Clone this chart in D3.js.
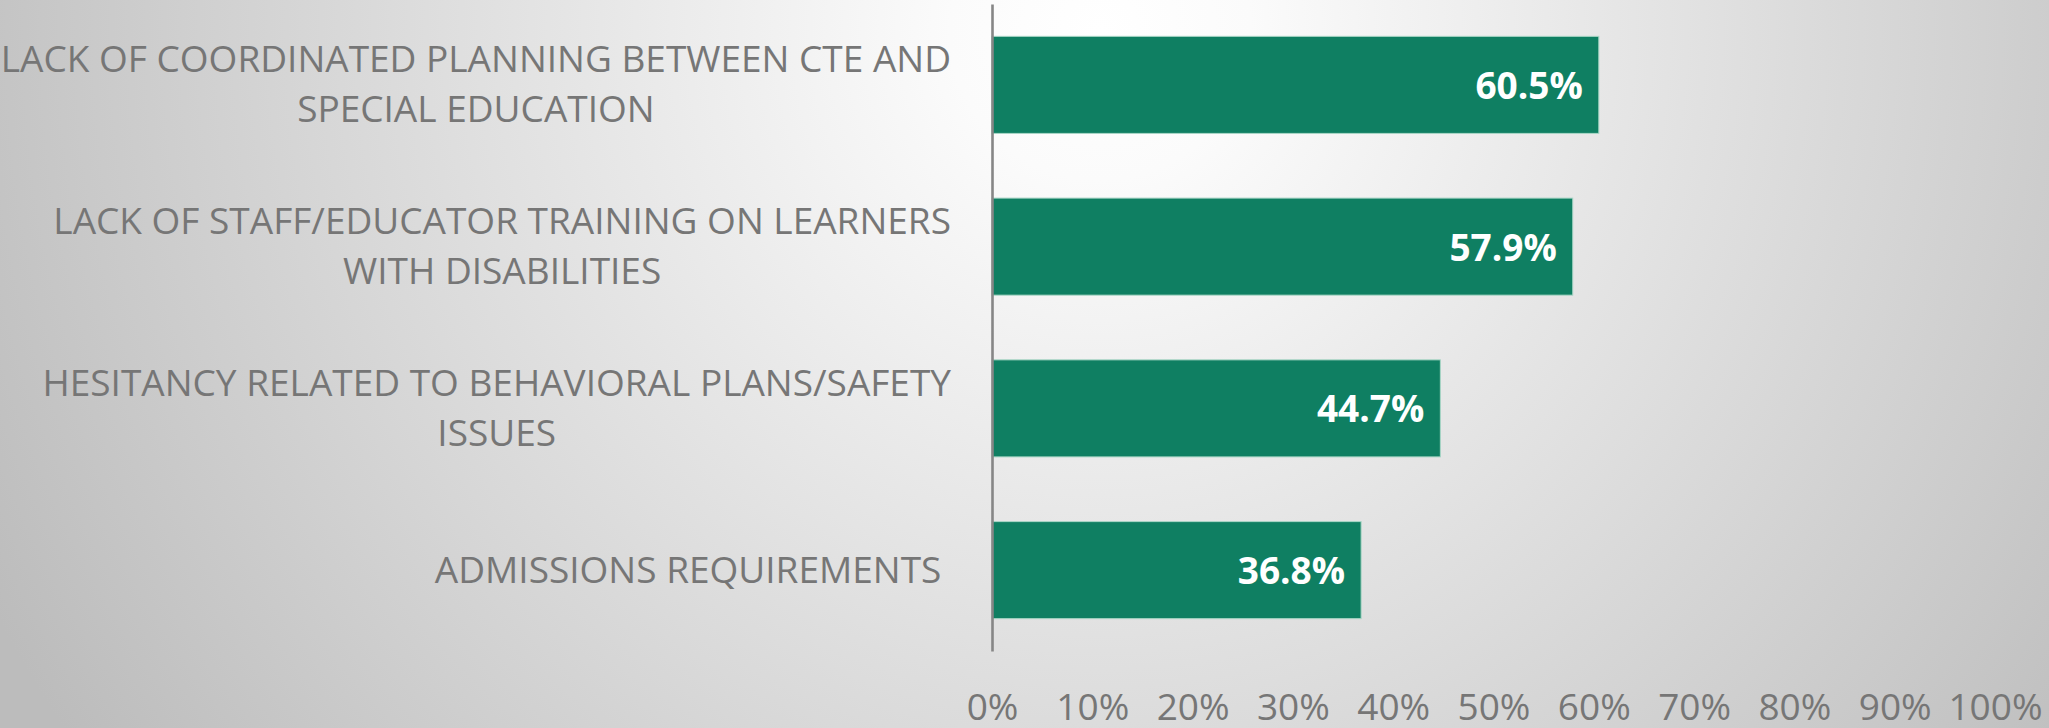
<!DOCTYPE html>
<html><head><meta charset="utf-8">
<script src="https://cdn.jsdelivr.net/npm/d3@7"></script>
<style>html,body{margin:0;padding:0;background:#fff;overflow:hidden}</style>
</head><body><svg id="chart" width="2049" height="728"></svg>
<script>
// ---- data ----
const categories = [
  "LACK OF COORDINATED PLANNING BETWEEN CTE AND SPECIAL EDUCATION",
  "LACK OF STAFF/EDUCATOR TRAINING ON LEARNERS WITH DISABILITIES",
  "HESITANCY RELATED TO BEHAVIORAL PLANS/SAFETY ISSUES",
  "ADMISSIONS REQUIREMENTS "
];
const values = [0.605, 0.579, 0.447, 0.368];
const valueLabels = ["60.5%", "57.9%", "44.7%", "36.8%"];
const xTickValues = [0, 0.1, 0.2, 0.3, 0.4, 0.5, 0.6, 0.7, 0.8, 0.9, 1.0];
const xTickLabels = ["0%", "10%", "20%", "30%", "40%", "50%", "60%", "70%", "80%", "90%", "100%"];

// ---- layout / style ----
const W = 2049, H = 728;
const FONT = "'Open Sans', 'Noto Sans', sans-serif";
const FS = 37;
const TEXT_GRAY = "#767676";
const BAR_COLOR = "#0f7f62";
const LABEL_RIGHT = 951, LABEL_MAX_W = 962, LINE_H = 50;

const svg = d3.select("#chart");

// background radial gradient
const defs = svg.append("defs");
const grad = defs.append("radialGradient").attr("id", "bg")
  .attr("gradientUnits", "userSpaceOnUse")
  .attr("cx", 1100).attr("cy", 30).attr("r", 1250)
  .attr("fx", 1100).attr("fy", 30);
grad.append("stop").attr("offset", "0").attr("stop-color", "#ffffff");
grad.append("stop").attr("offset", "0.12").attr("stop-color", "#fbfbfb");
grad.append("stop").attr("offset", "1").attr("stop-color", "#bcbcbc");
svg.append("rect").attr("width", W).attr("height", H).attr("fill", "url(#bg)");

const x = d3.scaleLinear().domain([0, 1]).range([992, 1995]);
const y = d3.scaleBand().domain(categories).range([4, 651]).paddingInner(0.4).paddingOuter(0.2);

// bars
svg.append("g").selectAll("rect").data(values).join("rect")
  .attr("x", x(0))
  .attr("y", (d, i) => y(categories[i]))
  .attr("width", d => x(d) - x(0))
  .attr("height", y.bandwidth())
  .attr("fill", BAR_COLOR)
  .attr("stroke", "#a9d6c6").attr("stroke-width", 1);

// value labels
svg.append("g").selectAll("text").data(values).join("text")
  .attr("x", d => x(d) - 16)
  .attr("y", (d, i) => y(categories[i]) + y.bandwidth() / 2 + 14)
  .attr("text-anchor", "end")
  .style("font-family", FONT).style("font-size", FS + "px").style("font-weight", "bold")
  .attr("fill", "#ffffff")
  .text((d, i) => valueLabels[i]);

// y axis (vertical line)
const yAxis = svg.append("g").attr("transform", `translate(${x(0)},0)`)
  .call(d3.axisLeft(y).tickSize(0).tickSizeOuter(0).tickFormat(""));
yAxis.select(".domain").attr("stroke", "#868686").attr("stroke-width", 2.6);
yAxis.selectAll(".tick text").remove();

// category labels with wrapping
const measurer = svg.append("text").style("font-family", FONT).style("font-size", FS + "px")
  .style("white-space", "pre").attr("x", -9999).attr("y", -9999);
function tw(s) { measurer.text(s); return measurer.node().getComputedTextLength(); }
function wrap(s) {
  const words = s.split(" ");
  const trailing = s.endsWith(" ");
  const lines = []; let cur = "";
  words.filter(w => w.length).forEach(w => {
    const t = cur ? cur + " " + w : w;
    if (cur && tw(t) > LABEL_MAX_W) { lines.push(cur); cur = w; } else cur = t;
  });
  if (cur) lines.push(cur);
  if (trailing) lines[lines.length - 1] += " ";
  return lines;
}
const catG = svg.append("g");
categories.forEach((c, i) => {
  const lines = wrap(c);
  const blockW = d3.max(lines, tw);
  const cx = LABEL_RIGHT - blockW / 2;
  const cy = y(c) + y.bandwidth() / 2;
  const n = lines.length;
  const t = catG.append("text")
    .attr("text-anchor", "middle")
    .style("font-family", FONT).style("font-size", FS + "px")
    .style("white-space", "pre")
    .attr("fill", TEXT_GRAY);
  lines.forEach((ln, j) => {
    t.append("tspan").attr("x", cx)
      .attr("y", cy + (j - (n - 1) / 2) * LINE_H + 12.5)
      .text(ln);
  });
});
measurer.remove();

// x axis labels
const xAxis = svg.append("g").attr("transform", "translate(0,720)")
  .call(d3.axisBottom(x).tickValues(xTickValues).tickSize(0)
    .tickFormat((d, i) => xTickLabels[i]));
xAxis.select(".domain").remove();
xAxis.selectAll(".tick text")
  .attr("y", 0).attr("dy", 0)
  .style("font-family", FONT).style("font-size", FS + "px")
  .attr("fill", TEXT_GRAY);
</script></body></html>
